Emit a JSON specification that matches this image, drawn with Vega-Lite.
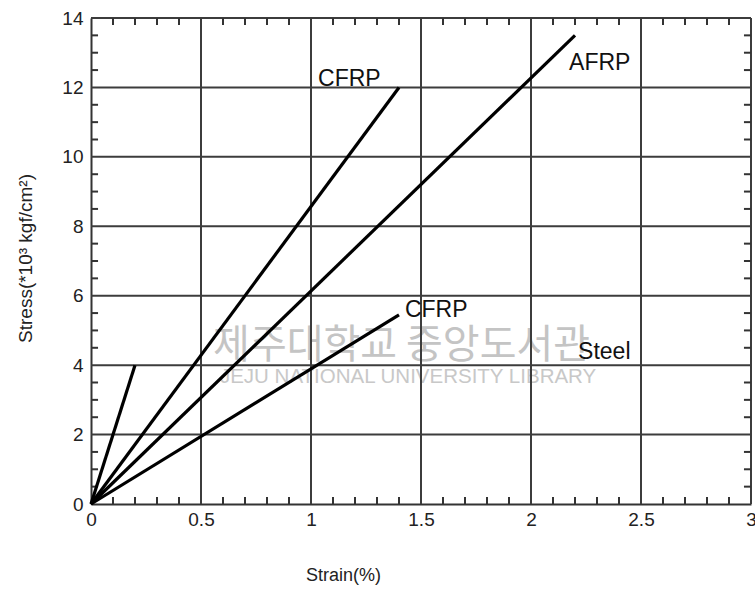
{
  "$schema": "https://vega.github.io/schema/vega-lite/v6.json",
  "width": 660,
  "height": 486,
  "autosize": "none",
  "padding": {"left": 91, "top": 18, "right": 4, "bottom": 86},
  "background": "white",
  "config": {"view": {"stroke": null}, "font": "Liberation Sans"},
  "datasets": {
    "curves": [
      {"series": "CFRP-upper", "strain": 0, "stress": 0},
      {"series": "CFRP-upper", "strain": 1.4, "stress": 12},
      {"series": "AFRP", "strain": 0, "stress": 0},
      {"series": "AFRP", "strain": 2.2, "stress": 13.5},
      {"series": "CFRP-lower", "strain": 0, "stress": 0},
      {"series": "CFRP-lower", "strain": 1.4, "stress": 5.45},
      {"series": "Steel", "strain": 0, "stress": 0},
      {"series": "Steel", "strain": 0.2, "stress": 4}
    ],
    "labels": [
      {"label": "CFRP", "strain": 1.032, "stress": 12.04},
      {"label": "AFRP", "strain": 2.173, "stress": 12.5},
      {"label": "CFRP", "strain": 1.427, "stress": 5.39},
      {"label": "Steel", "strain": 2.214, "stress": 4.18}
    ],
    "grid_x": [{"strain": 0.5}, {"strain": 1}, {"strain": 1.5}, {"strain": 2}, {"strain": 2.5}, {"strain": 3}],
    "grid_y": [{"stress": 2}, {"stress": 4}, {"stress": 6}, {"stress": 8}, {"stress": 10}, {"stress": 12}, {"stress": 14}],
    "minor_x": [
      {"strain": 0.1}, {"strain": 0.2}, {"strain": 0.3}, {"strain": 0.4}, {"strain": 0.6}, {"strain": 0.7}, {"strain": 0.8}, {"strain": 0.9},
      {"strain": 1.1}, {"strain": 1.2}, {"strain": 1.3}, {"strain": 1.4}, {"strain": 1.6}, {"strain": 1.7}, {"strain": 1.8}, {"strain": 1.9},
      {"strain": 2.1}, {"strain": 2.2}, {"strain": 2.3}, {"strain": 2.4}, {"strain": 2.6}, {"strain": 2.7}, {"strain": 2.8}, {"strain": 2.9}
    ],
    "minor_y": [
      {"stress": 0.5}, {"stress": 1}, {"stress": 1.5}, {"stress": 2.5}, {"stress": 3}, {"stress": 3.5},
      {"stress": 4.5}, {"stress": 5}, {"stress": 5.5}, {"stress": 6.5}, {"stress": 7}, {"stress": 7.5},
      {"stress": 8.5}, {"stress": 9}, {"stress": 9.5}, {"stress": 10.5}, {"stress": 11}, {"stress": 11.5},
      {"stress": 12.5}, {"stress": 13}, {"stress": 13.5}
    ],
    "wm_ko": [{"label": "제주대학교 중앙도서관", "strain": 0.555, "stress": 4.2}],
    "wm_en": [{"label": "JEJU NATIONAL UNIVERSITY  LIBRARY", "strain": 0.586, "stress": 3.49}]
  },
  "layer": [
    {
      "data": {"name": "wm_ko"},
      "mark": {"type": "text", "font": "Noto Sans CJK KR", "fontSize": 40, "color": "#c4c4c4", "align": "left", "baseline": "alphabetic"},
      "encoding": {
        "x": {"field": "strain", "type": "quantitative", "scale": {"domain": [0, 3], "nice": false},
          "axis": {"orient": "bottom", "values": [0, 0.5, 1, 1.5, 2, 2.5, 3], "format": "~g",
            "grid": false, "ticks": false, "domain": true, "domainWidth": 2, "domainColor": "#333333",
            "labelFontSize": 19, "labelColor": "#222222", "labelPadding": 6, "labelFont": "Liberation Sans",
            "labelFlush": false,
            "title": "Strain(%)", "titleFontSize": 18, "titleFontWeight": "normal", "titleColor": "#222222", "titleFont": "Liberation Sans",
            "titleX": 252, "titleY": 71, "titleBaseline": "middle", "titleAlign": "center"}},
        "y": {"field": "stress", "type": "quantitative", "scale": {"domain": [0, 14], "nice": false},
          "axis": {"orient": "left", "values": [0, 2, 4, 6, 8, 10, 12, 14],
            "grid": false, "ticks": false, "domain": true, "domainWidth": 2, "domainColor": "#333333",
            "labelFontSize": 19, "labelColor": "#222222", "labelPadding": 8, "labelFont": "Liberation Sans",
            "labelFlush": false,
            "title": "Stress(*10³ kgf/cm²)", "titleFontSize": 19, "titleFontWeight": "normal", "titleColor": "#222222", "titleFont": "Liberation Sans",
            "titleX": -66, "titleY": 240, "titleAngle": -90, "titleBaseline": "middle", "titleAlign": "center"}},
        "text": {"field": "label"}
      }
    },
    {
      "data": {"name": "wm_en"},
      "mark": {"type": "text", "font": "Liberation Sans", "fontSize": 20.5, "color": "#c8c8c8", "align": "left", "baseline": "alphabetic"},
      "encoding": {
        "x": {"field": "strain", "type": "quantitative", "scale": {"domain": [0, 3], "nice": false}},
        "y": {"field": "stress", "type": "quantitative", "scale": {"domain": [0, 14], "nice": false}},
        "text": {"field": "label"}
      }
    },
    {
      "data": {"name": "grid_x"},
      "mark": {"type": "rule", "color": "#3c3c3c", "strokeWidth": 2},
      "encoding": {
        "x": {"field": "strain", "type": "quantitative", "scale": {"domain": [0, 3], "nice": false}},
        "y": {"datum": 0, "type": "quantitative", "scale": {"domain": [0, 14], "nice": false}},
        "y2": {"datum": 14}
      }
    },
    {
      "data": {"name": "grid_y"},
      "mark": {"type": "rule", "color": "#3c3c3c", "strokeWidth": 2},
      "encoding": {
        "y": {"field": "stress", "type": "quantitative", "scale": {"domain": [0, 14], "nice": false}},
        "x": {"datum": 0, "type": "quantitative", "scale": {"domain": [0, 3], "nice": false}},
        "x2": {"datum": 3}
      }
    },
    {
      "data": {"name": "minor_x"},
      "mark": {"type": "rule", "color": "#333333", "strokeWidth": 2},
      "encoding": {
        "x": {"field": "strain", "type": "quantitative", "scale": {"domain": [0, 3], "nice": false}},
        "y": {"datum": 0, "type": "quantitative", "scale": {"domain": [0, 14], "nice": false}},
        "y2": {"datum": 0.2}
      }
    },
    {
      "data": {"name": "minor_x"},
      "mark": {"type": "rule", "color": "#333333", "strokeWidth": 2},
      "encoding": {
        "x": {"field": "strain", "type": "quantitative", "scale": {"domain": [0, 3], "nice": false}},
        "y": {"datum": 14, "type": "quantitative", "scale": {"domain": [0, 14], "nice": false}},
        "y2": {"datum": 13.8}
      }
    },
    {
      "data": {"name": "minor_y"},
      "mark": {"type": "rule", "color": "#333333", "strokeWidth": 2},
      "encoding": {
        "y": {"field": "stress", "type": "quantitative", "scale": {"domain": [0, 14], "nice": false}},
        "x": {"datum": 0, "type": "quantitative", "scale": {"domain": [0, 3], "nice": false}},
        "x2": {"datum": 0.032}
      }
    },
    {
      "data": {"name": "minor_y"},
      "mark": {"type": "rule", "color": "#333333", "strokeWidth": 2},
      "encoding": {
        "y": {"field": "stress", "type": "quantitative", "scale": {"domain": [0, 14], "nice": false}},
        "x": {"datum": 3, "type": "quantitative", "scale": {"domain": [0, 3], "nice": false}},
        "x2": {"datum": 2.968}
      }
    },
    {
      "data": {"name": "curves"},
      "mark": {"type": "line", "color": "#000000", "strokeWidth": 3.2},
      "encoding": {
        "x": {"field": "strain", "type": "quantitative", "scale": {"domain": [0, 3], "nice": false}},
        "y": {"field": "stress", "type": "quantitative", "scale": {"domain": [0, 14], "nice": false}},
        "detail": {"field": "series", "type": "nominal"}
      }
    },
    {
      "data": {"name": "labels"},
      "mark": {"type": "text", "font": "Liberation Sans", "fontSize": 23, "color": "#111111", "align": "left", "baseline": "alphabetic"},
      "encoding": {
        "x": {"field": "strain", "type": "quantitative", "scale": {"domain": [0, 3], "nice": false}},
        "y": {"field": "stress", "type": "quantitative", "scale": {"domain": [0, 14], "nice": false}},
        "text": {"field": "label"}
      }
    }
  ]
}
